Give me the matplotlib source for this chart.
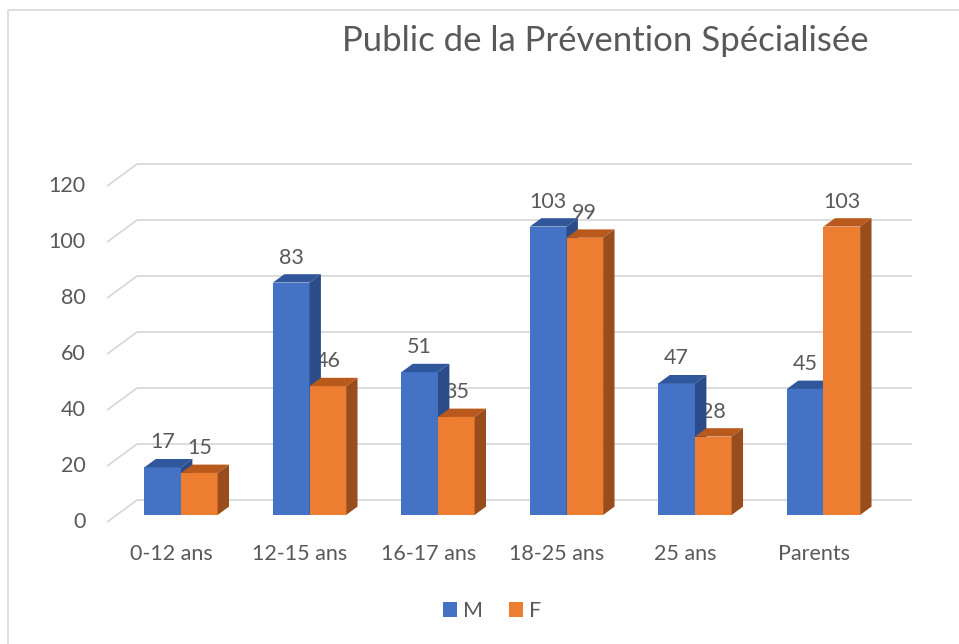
import matplotlib
matplotlib.use("Agg")
import matplotlib.pyplot as plt
from matplotlib.patches import Polygon, Rectangle
from matplotlib.lines import Line2D

plt.rcParams['font.family'] = ['Lato', 'DejaVu Sans']

categories = ["0-12 ans", "12-15 ans", "16-17 ans", "18-25 ans", "25 ans", "Parents"]
m_values = [17, 83, 51, 103, 47, 45]
f_values = [15, 46, 35, 99, 28, 103]
y_ticks = [0, 20, 40, 60, 80, 100, 120]
title = "Public de la Prévention Spécialisée"

TEXT = "#595959"
GRID = "#D9D9D9"
BLUE, BLUE_TOP, BLUE_SIDE = "#4472C4", "#30579C", "#2B4C88"
ORANGE, ORANGE_TOP, ORANGE_SIDE = "#ED7D31", "#B95A1C", "#9A4D1C"

W, H = 959, 644
fig = plt.figure(figsize=(W / 100, H / 100), dpi=100)
ax = fig.add_axes([0, 0, 1, 1])
# pixel mapping: x_px = 171.4 + 128.5*x ; y_px(from top) = 522 - 2.8*v
XPX, YPX = 128.5, 2.8
ax.set_xlim(-171.4 / XPX, (W - 171.4) / XPX)
ax.set_ylim((522 - H) / YPX, 522 / YPX)
ax.axis("off")

# depth vector (front plane -> back wall), in data units
DX, DY = 30 / XPX, 22 / YPX
x0, x1 = -0.5, len(categories) - 0.47

# gridlines (front diagonal + back wall)
for v in y_ticks:
    ax.plot([x0, x0 + DX, x1 + DX], [v, v + DY, v + DY], color=GRID, lw=1.3, zorder=1,
            solid_capstyle="butt")
    ax.text(x0 - 0.17, v, str(v), ha="right", va="center", fontsize=15.5, color=TEXT)

# bars
d0, d1 = 0.32, 0.70
bw = 0.285
base = d0 * DY
ddx, ddy = (d1 - d0) * DX, (d1 - d0) * DY


def draw_bar(xc, v, front, top, side, z, lab_z):
    xl, xr = xc - bw / 2, xc + bw / 2
    yt = base + v
    ax.bar(xc, v, width=bw, bottom=base, color=front, edgecolor="none", zorder=z)
    ax.add_patch(Polygon([(xl, yt), (xr, yt), (xr + ddx, yt + ddy), (xl + ddx, yt + ddy)],
                         closed=True, facecolor=top, edgecolor="none", zorder=z))
    ax.add_patch(Polygon([(xr, base), (xr, yt), (xr + ddx, yt + ddy), (xr + ddx, base + ddy)],
                         closed=True, facecolor=side, edgecolor="none", zorder=z))
    ax.text(xc, yt + 25 / YPX, str(v), ha="center", va="center", fontsize=15.5,
            color=TEXT, zorder=lab_z)


for i, (m, f) in enumerate(zip(m_values, f_values)):
    xc = i + d0 * DX
    draw_bar(xc - bw / 2, m, BLUE, BLUE_TOP, BLUE_SIDE, 3, 6)
    draw_bar(xc + bw / 2, f, ORANGE, ORANGE_TOP, ORANGE_SIDE, 4, 2.5)
    ax.text(i, -11.3, categories[i], ha="center", va="center", fontsize=15.5, color=TEXT)

# title
fig.text(605 / W, 1 - 41 / H, title, ha="center", va="center", fontsize=25, color=TEXT)

# legend
handles = [Rectangle((0, 0), 1, 1, facecolor=BLUE), Rectangle((0, 0), 1, 1, facecolor=ORANGE)]
fig.legend(handles, ["M", "F"], loc="center", bbox_to_anchor=(492 / W, 1 - 611 / H),
           ncol=2, frameon=False, fontsize=15.5, handlelength=0.65, handleheight=0.65,
           handletextpad=0.3, columnspacing=1.2, labelcolor=TEXT)

# chart area border
fig.add_artist(Line2D([8 / W, 8 / W, 1], [0, 1 - 10 / H, 1 - 10 / H], color=GRID, lw=1.2,
                      transform=fig.transFigure))

fig.savefig("out.png", dpi=100)
